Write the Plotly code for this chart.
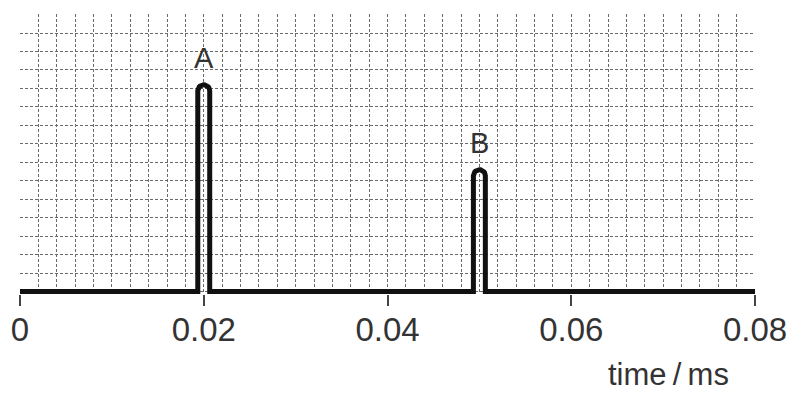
import numpy as np
import plotly.graph_objects as go

# ---- data ----
pulse_labels = ["A", "B"]
pulse_times = [0.02, 0.05]          # ms
pulse_heights = [11.2, 6.6]          # grid units (apex)
pulse_width = 0.0013                 # ms
x_start, x_end = 0.0, 0.08
tick_vals = [0, 0.02, 0.04, 0.06, 0.08]
tick_text = ["0", "0.02", "0.04", "0.06", "0.08"]
y_max = 15

# ---- layout geometry (style) ----
# the page body has an 8px margin, so the figure is offset by (8, 8)
W, H = 786, 385
y_lo, y_hi = -0.13, y_max + 0.03
ML, MR, MT, MB = 12, 39, 6.35, 98.6
plot_w = W - ML - MR
plot_h = H - MT - MB
px_per_x = plot_w / (x_end - x_start)
px_per_y = plot_h / (y_hi - y_lo)

xs, ys = [x_start], [0]
half = pulse_width / 2
r_y = half * px_per_x / px_per_y
for c, h in zip(pulse_times, pulse_heights):
    sh = h - r_y
    xs += [c - half, c - half]
    ys += [0, sh]
    ang = np.linspace(np.pi, 0, 19)
    xs += list(c + half * np.cos(ang))
    ys += list(sh + r_y * np.sin(ang))
    xs += [c + half]
    ys += [0]
xs.append(x_end)
ys.append(0)

fig = go.Figure()
fig.add_trace(go.Scatter(x=xs, y=ys, mode="lines",
                         line=dict(color="#111111", width=5),
                         hoverinfo="skip", showlegend=False))

FONT = "Liberation Sans, Arial"
for lab, c, h in zip(pulse_labels, pulse_times, pulse_heights):
    fig.add_annotation(x=c, y=h, text=lab, showarrow=False,
                       yanchor="bottom", yshift=9,
                       font=dict(family=FONT, size=29, color="#333333"))

fig.add_annotation(xref="paper", yref="paper", x=1, y=0, xanchor="right",
                   yanchor="middle", xshift=-24, yshift=-80,
                   text="time\u2009/\u2009ms", showarrow=False,
                   font=dict(family=FONT, size=31, color="#333333"))

grid_col = "#6a6a6a"
fig.update_layout(
    width=W, height=H,
    margin=dict(l=ML, r=MR, t=MT, b=MB, autoexpand=False),
    paper_bgcolor="white", plot_bgcolor="white",
    xaxis=dict(range=[x_start, x_end], tickmode="array", tickvals=tick_vals,
               ticktext=tick_text, showgrid=True, gridcolor=grid_col,
               griddash="3px,2px", gridwidth=1, zeroline=False, showline=False,
               ticks="outside", ticklen=11, tickwidth=2, tickcolor="#444444",
               ticklabelstandoff=-5,
               automargin=False,
               tickfont=dict(family=FONT, size=33, color="#333333"),
               minor=dict(tickmode="linear", tick0=0, dtick=0.002, showgrid=True,
                          gridcolor=grid_col, griddash="3px,2px", gridwidth=1,
                          ticks=""),
               fixedrange=True),
    yaxis=dict(range=[y_lo, y_hi], tickmode="linear", tick0=0, dtick=1,
               showgrid=True, gridcolor=grid_col, griddash="3px,2px", gridwidth=1,
               zeroline=False, showline=False, showticklabels=False, ticks="",
               automargin=False, fixedrange=True),
)

fig.write_html("out.html")
